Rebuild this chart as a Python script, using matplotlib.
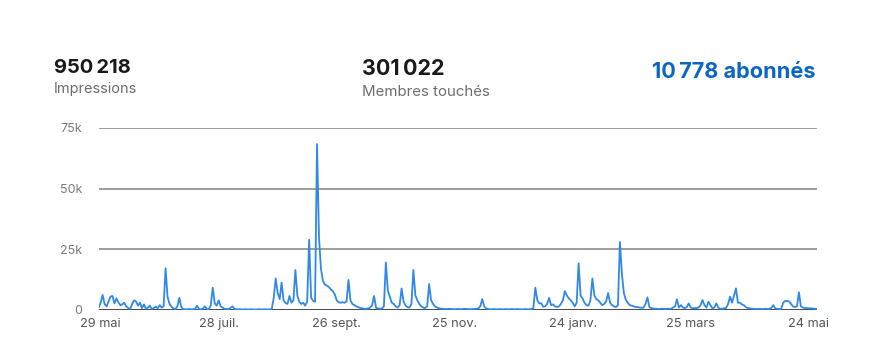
import matplotlib
matplotlib.use("Agg")
import matplotlib.pyplot as plt
import pandas as pd

plt.rcParams["font.family"] = ["Inter", "DejaVu Sans"]

# header figures
stat_values = ["950\u2009218", "301\u2009022"]
stat_labels = ["Impressions", "Membres touchés"]
followers = "10\u2009778 abonnés"

# daily impressions (thousands), 28 May 2022 -> 28 May 2023
start_date = "2022-05-28"
impressions_k = [
    1.0, 3.0, 6.2, 2.5, 1.5, 3.5, 5.5, 5.8, 2.7, 4.8,
    3.2, 2.0, 2.3, 3.0, 1.5, 0.8, 0.4, 2.5, 4.0, 3.5,
    1.8, 3.0, 0.8, 2.3, 0.5, 1.0, 1.8, 0.4, 0.8, 1.4,
    0.7, 2.0, 1.0, 1.5, 17.2, 5.5, 2.5, 1.4, 0.6, 0.4,
    1.5, 5.0, 1.2, 0.4, 0.3, 0.3, 0.4, 0.3, 0.3, 0.4,
    1.8, 0.4, 0.3, 0.6, 1.5, 0.4, 0.3, 2.0, 9.2, 2.7,
    1.8, 4.0, 1.5, 1.0, 0.5, 0.4, 0.4, 0.8, 1.5, 0.5,
    0.3, 0.3, 0.3, 0.2, 0.3, 0.3, 0.2, 0.3, 0.3, 0.2,
    0.2, 0.3, 0.3, 0.2, 0.3, 0.3, 0.2, 0.3, 0.4, 5.0,
    13.0, 7.0, 4.5, 11.3, 4.0, 2.9, 2.5, 5.8, 3.0, 4.0,
    16.5, 6.0, 3.3, 2.5, 3.0, 1.8, 3.5, 29.0, 5.0, 3.8,
    3.4, 68.4, 30.0, 17.0, 12.0, 10.5, 10.0, 9.5, 8.5, 7.8,
    6.5, 4.0, 3.2, 3.0, 3.2, 3.0, 3.5, 12.4, 4.0, 2.5,
    2.0, 1.5, 1.2, 0.8, 0.7, 0.5, 0.5, 0.6, 1.0, 2.0,
    5.8, 1.0, 0.6, 0.5, 0.6, 1.5, 19.6, 8.0, 5.5, 3.0,
    2.5, 1.5, 1.0, 2.0, 8.9, 3.5, 1.8, 1.2, 1.0, 2.5,
    16.5, 6.0, 4.0, 2.5, 1.5, 1.0, 0.8, 1.5, 10.7, 4.0,
    2.5, 1.5, 1.0, 0.7, 0.5, 0.5, 0.4, 0.4, 0.5, 0.4,
    0.4, 0.3, 0.4, 0.4, 0.3, 0.4, 0.5, 0.4, 0.4, 0.3,
    0.4, 0.4, 0.5, 0.6, 1.5, 4.5, 1.5, 0.6, 0.4, 0.3,
    0.3, 0.4, 0.3, 0.3, 0.4, 0.3, 0.3, 0.4, 0.3, 0.3,
    0.4, 0.3, 0.3, 0.4, 0.3, 0.3, 0.3, 0.4, 0.3, 0.3,
    0.4, 0.8, 9.2, 4.0, 2.7, 2.8, 1.3, 1.5, 2.5, 5.0,
    2.0, 2.3, 1.5, 1.2, 1.5, 2.5, 4.0, 7.8, 6.0, 4.8,
    4.0, 3.0, 1.5, 3.0, 19.2, 6.0, 4.8, 3.0, 2.0, 1.8,
    4.0, 13.0, 6.0, 4.5, 4.0, 3.0, 2.0, 2.5, 3.5, 7.0,
    3.0, 2.0, 1.5, 1.2, 2.0, 28.0, 15.0, 7.0, 4.2, 3.0,
    2.0, 1.8, 1.5, 1.2, 1.2, 1.0, 0.9, 1.0, 2.5, 5.2,
    1.2, 0.8, 0.6, 0.5, 0.5, 0.4, 0.5, 0.5, 0.4, 0.5,
    0.5, 0.5, 1.0, 1.5, 4.4, 1.0, 2.0, 1.0, 0.8, 1.2,
    2.7, 1.0, 0.7, 0.8, 0.8, 1.0, 2.0, 4.1, 2.0, 1.0,
    3.4, 2.0, 0.7, 1.0, 2.7, 1.0, 0.5, 0.5, 0.7, 0.8,
    2.5, 5.5, 3.0, 6.0, 8.9, 3.0, 3.0, 2.3, 2.0, 1.2,
    0.8, 0.7, 0.5, 0.5, 0.4, 0.4, 0.5, 0.4, 0.4, 0.5,
    0.4, 0.5, 0.8, 2.0, 0.6, 0.5, 0.4, 0.5, 3.0, 3.7,
    3.8, 3.5, 2.5, 1.5, 1.2, 1.5, 7.3, 1.5, 1.0, 0.8,
    0.8, 0.7, 0.7, 0.6, 0.5, 0.5,
]

tick_dates = ["2022-05-29", "2022-07-28", "2022-09-26", "2022-11-25",
              "2023-01-24", "2023-03-25", "2023-05-24"]
tick_labels = ["29 mai", "28 juil.", "26 sept.", "25 nov.",
               "24 janv.", "25 mars", "24 mai"]
y_ticks = [0, 25, 50, 75]
y_labels = ["0", "25k", "50k", "75k"]

W, H = 893, 363
dates = pd.date_range(start_date, periods=len(impressions_k), freq="D")

fig = plt.figure(figsize=(W / 100, H / 100), dpi=100)
fig.patch.set_facecolor("white")
ax = fig.add_axes([98.7 / W, 1 - 310 / H, (816.6 - 98.7) / W, (310 - 128) / H])

for v in y_ticks[1:]:
    ax.axhline(v, color="#8c8c8c", lw=1.2, zorder=1)
ax.axhline(0, color="#3c3c3c", lw=1.3, zorder=1)

ax.plot(dates, impressions_k, color="#3089e8", lw=1.3, zorder=3,
        solid_joinstyle="round")

ax.set_xlim(dates[0], dates[-1])
ax.set_ylim(0, 75)
ax.set_yticks(y_ticks)
ax.set_yticklabels(y_labels)
ax.set_xticks(pd.to_datetime(tick_dates))
ax.set_xticklabels(tick_labels)
ax.tick_params(axis="y", length=0, pad=12, labelsize=9, labelcolor="#7a7a7a")
ax.tick_params(axis="x", length=0, pad=6, labelsize=9.2, labelcolor="#555555")
for s in ax.spines.values():
    s.set_visible(False)
ax.set_facecolor("none")


def px(x, y):
    return x / W, 1 - y / H


fig.text(*px(54, 68), stat_values[0], fontsize=14.5, fontweight="bold",
         color="#1a1a1a", va="center", ha="left")
fig.text(*px(54, 89), stat_labels[0], fontsize=10.5, color="#6e6e6e",
         va="center", ha="left")
fig.text(*px(362, 69), stat_values[1], fontsize=15.5, fontweight="bold",
         color="#1a1a1a", va="center", ha="left")
fig.text(*px(362, 92), stat_labels[1], fontsize=10.8, color="#6e6e6e",
         va="center", ha="left")
fig.text(*px(815, 72), followers, fontsize=15.6, fontweight="bold",
         color="#0a66c2", va="center", ha="right")

fig.savefig("out.png", dpi=100, facecolor="white")
